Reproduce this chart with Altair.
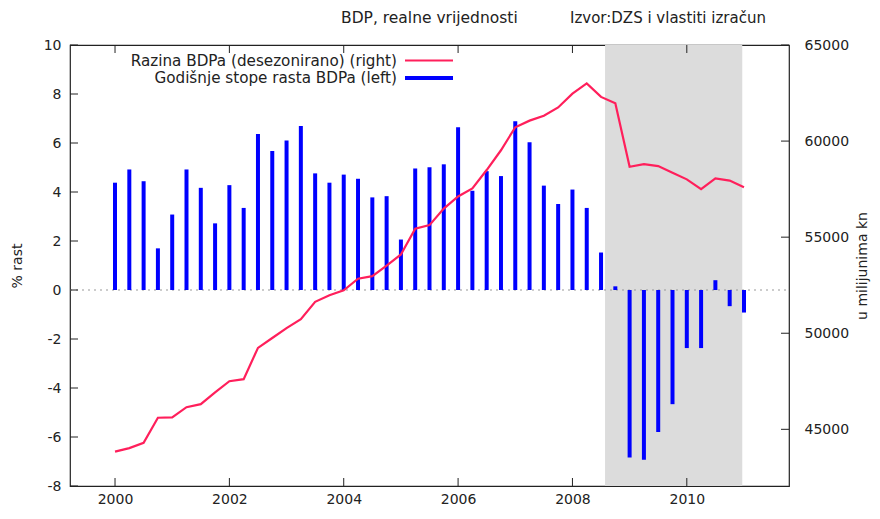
import altair as alt
import pandas as pd

# Quarterly periods (decimal years), 2000Q1 .. 2011Q1
periods = [2000.00, 2000.25, 2000.50, 2000.75, 2001.00, 2001.25, 2001.50, 2001.75,
           2002.00, 2002.25, 2002.50, 2002.75, 2003.00, 2003.25, 2003.50, 2003.75,
           2004.00, 2004.25, 2004.50, 2004.75, 2005.00, 2005.25, 2005.50, 2005.75,
           2006.00, 2006.25, 2006.50, 2006.75, 2007.00, 2007.25, 2007.50, 2007.75,
           2008.00, 2008.25, 2008.50, 2008.75, 2009.00, 2009.25, 2009.50, 2009.75,
           2010.00, 2010.25, 2010.50, 2010.75, 2011.00]

# Godišnje stope rasta BDPa (left axis, %)
growth = [4.38, 4.92, 4.44, 1.70, 3.08, 4.92, 4.17, 2.72, 4.28, 3.35,
          6.37, 5.67, 6.10, 6.69, 4.76, 4.38, 4.71, 4.54, 3.78, 3.83,
          2.06, 4.96, 5.01, 5.13, 6.64, 4.05, 4.85, 4.65, 6.89, 6.03,
          4.26, 3.51, 4.10, 3.35, 1.53, 0.15, -6.84, -6.93, -5.80, -4.66,
          -2.37, -2.37, 0.40, -0.66, -0.92]

# Razina BDPa desezonirano (right axis, mil. kn)
level = [43837, 44023, 44300, 45602, 45617, 46152, 46307, 46924, 47505, 47608,
         49239, 49753, 50267, 50730, 51636, 51980, 52237, 52840, 52970, 53520,
         54100, 55437, 55627, 56486, 57119, 57531, 58493, 59522, 60720, 61064,
         61322, 61749, 62469, 62999, 62299, 61970, 58663, 58801, 58698, 58354,
         58009, 57495, 58061, 57942, 57598]

# Recession shading
band_start = [2008.57]
band_end = [2010.97]

x_ticks = [2000, 2002, 2004, 2006, 2008, 2010]
left_ticks = [-8, -6, -4, -2, 0, 2, 4, 6, 8, 10]
right_ticks = [45000, 50000, 55000, 60000, 65000]

W, H = 719, 441
FONT = "DejaVu Sans"
FS = 14
TXT = "#222222"

df = pd.DataFrame({"t": periods, "g": growth, "lvl": level, "z": [0] * len(periods)})
band_df = pd.DataFrame({"t": band_start, "e": band_end})
xt_df = pd.DataFrame({"t": x_ticks})
lt_df = pd.DataFrame({"g": left_ticks})
rt_df = pd.DataFrame({"lvl": right_ticks})
zero_df = pd.DataFrame({"g": [0]})
one = pd.DataFrame({"a": [0]})

xscale = alt.Scale(domain=[1999.3, 2011.7], nice=False, zero=False)
lscale = alt.Scale(domain=[-8, 10], nice=False, zero=False)
rscale = alt.Scale(domain=[42050, 65000], nice=False, zero=False)

xaxis = alt.Axis(values=x_ticks, labelExpr="toString(datum.value)", title=None,
                 ticks=False, domain=False, grid=False, labelPadding=6,
                 labelFontSize=FS, labelFont=FONT, labelColor=TXT)
laxis = alt.Axis(values=left_ticks, labelExpr="toString(datum.value)", title="% rast",
                 ticks=False, domain=False, grid=False,
                 labelPadding=9, labelFontSize=FS, labelFont=FONT, labelColor=TXT,
                 titleFont=FONT, titleFontSize=FS, titleFontWeight="normal",
                 titleColor=TXT, titlePadding=19)
raxis = alt.Axis(values=right_ticks, labelExpr="toString(datum.value)", orient="right",
                 title="u milijunima kn", ticks=False, domain=False, grid=False,
                 labelPadding=15, labelFontSize=FS, labelFont=FONT, labelColor=TXT,
                 titleFont=FONT, titleFontSize=FS, titleFontWeight="normal",
                 titleColor=TXT, titlePadding=7, titleAngle=270, titleBaseline="top")

X = alt.X("t:Q", scale=xscale, axis=xaxis)
YL = alt.Y("g:Q", scale=lscale, axis=laxis)
YR = alt.Y("lvl:Q", scale=rscale, axis=raxis)

band = alt.Chart(band_df).mark_rect(color="#dcdcdc").encode(
    x=X, x2="e:Q", y=alt.value(0), y2=alt.value(H))

zero_rule = alt.Chart(zero_df).mark_rule(color="#999999", strokeDash=[2, 4], strokeWidth=1).encode(
    y=YL, x=alt.value(0), x2=alt.value(W))

bars = alt.Chart(df).mark_bar(color="#0000ff", size=4).encode(
    x=X, y=YL, y2="z:Q")

xt_bottom = alt.Chart(xt_df).mark_rule(color=TXT, strokeWidth=1).encode(
    x=X, y=alt.value(H - 8), y2=alt.value(H))
xt_top = alt.Chart(xt_df).mark_rule(color=TXT, strokeWidth=1).encode(
    x=X, y=alt.value(0), y2=alt.value(8))
lt = alt.Chart(lt_df).mark_rule(color=TXT, strokeWidth=1).encode(
    y=YL, x=alt.value(0), x2=alt.value(8))

left_layer = alt.layer(band, zero_rule, bars, xt_bottom, xt_top, lt)

line = alt.Chart(df).mark_line(color="#ff1f5b", strokeWidth=2.2).encode(x=X, y=YR)
rt = alt.Chart(rt_df).mark_rule(color=TXT, strokeWidth=1).encode(
    y=YR, x=alt.value(W - 8), x2=alt.value(W))

right_layer = alt.layer(line, rt)

def txt(s, x, y, align="left", size=15):
    return alt.Chart(one).mark_text(text=s, font=FONT, fontSize=size, color=TXT,
                                    align=align, baseline="middle").encode(
        x=alt.value(x), y=alt.value(y))

annotations = alt.layer(
    txt("BDP, realne vrijednosti", 271, -27, size=15.5),
    txt("Izvor:DZS i vlastiti izračun", 500, -27),
    txt("Razina BDPa (desezonirano) (right)", 327, 16, "right", 15.2),
    txt("Godišnje stope rasta BDPa (left)", 327, 33, "right", 15.2),
    alt.Chart(one).mark_rule(color="#ff1f5b", strokeWidth=2).encode(
        x=alt.value(335), x2=alt.value(383), y=alt.value(15.5)),
    alt.Chart(one).mark_rule(color="#0000ff", strokeWidth=4).encode(
        x=alt.value(335), x2=alt.value(383), y=alt.value(33)),
)

chart = alt.layer(left_layer, right_layer, annotations).resolve_scale(
    y="independent"
).properties(
    width=W, height=H,
    autosize=alt.AutoSizeParams(type="none"),
    padding={"left": 62, "top": 37, "right": 83, "bottom": 20},
).configure(
    font=FONT,
    view=alt.ViewConfig(stroke=TXT, strokeWidth=1.2),
)

chart.save("out.html", embed_options={"renderer": "svg", "actions": False})
